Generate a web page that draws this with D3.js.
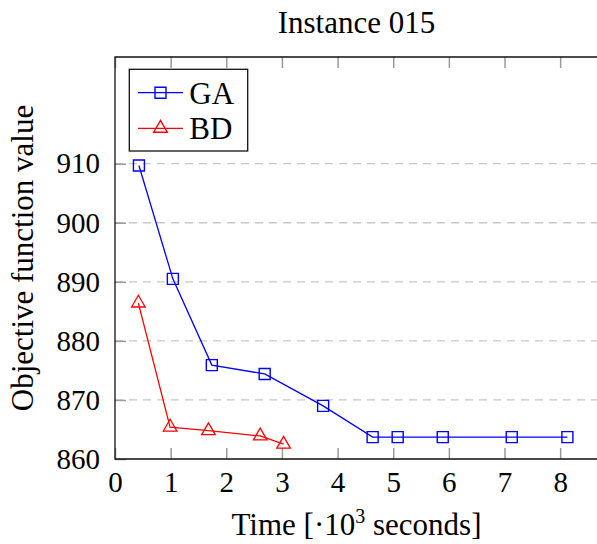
<!DOCTYPE html>
<html>
<head>
<meta charset="utf-8">
<script src="https://cdn.jsdelivr.net/npm/d3@7"></script>
<style>
    body {margin: 0; background: #fff;}
    svg {display: block;}
    text {font-family: "Liberation Serif", serif; fill: #000;}
</style>
</head>
<body>
<div id="chart"></div>
<script>
// values
const gaTime = [0.43, 1.04, 1.74, 2.69, 3.74, 4.63, 5.08, 5.89, 7.13, 8.13];
const gaValue = [909.7, 890.5, 875.9, 874.4, 869.0, 863.7, 863.7, 863.7, 863.7, 863.7];
const bdTime = [0.42, 0.99, 1.68, 2.61, 3.03];
const bdValue = [886.4, 865.4, 864.8, 863.9, 862.5];
const xTicks = [0, 1, 2, 3, 4, 5, 6, 7, 8];
const yTicks = [860, 870, 880, 890, 900, 910];
const seriesNames = ['GA', 'BD'];
const seriesColors = ['#0000ff', '#ff0000'];

const svgWidth = 597;
const svgHeight = 544;
const margins = {t: 57, r: -1, b: 85, l: 115};
const graphWidth = svgWidth - margins.l - margins.r;
const graphHeight = svgHeight - margins.t - margins.b;

const svg = d3.select('#chart')
    .append('svg')
    .attr('width', svgWidth)
    .attr('height', svgHeight);

const g = svg.append('g').attr('transform', `translate(${margins.l},${margins.t})`);

const x = d3.scaleLinear().domain([0, 8.68]).range([0, graphWidth]);
const y = d3.scaleLinear().domain([860, 928.07]).range([graphHeight, 0]);

// dashed grid
g.selectAll('line.grid')
    .data(yTicks.filter(d => d > 860))
    .join('line')
    .attr('class', 'grid')
    .attr('x1', 0).attr('x2', graphWidth)
    .attr('y1', d => y(d)).attr('y2', d => y(d))
    .attr('stroke', '#c8c8c8')
    .attr('stroke-width', 1.3)
    .attr('stroke-dasharray', '8,6');

// axes (ticks point inside)
const xAxis = g.append('g')
    .attr('transform', `translate(0,${graphHeight})`)
    .call(d3.axisBottom(x).tickValues(xTicks).tickSize(-11).tickPadding(12).tickFormat(d3.format('d')));

const xTop = g.append('g')
    .call(d3.axisTop(x).tickValues(xTicks).tickSize(-11).tickFormat(''));

const yAxis = g.append('g')
    .call(d3.axisLeft(y).tickValues(yTicks).tickSize(-11).tickPadding(15).tickFormat(d3.format('d')));

[xAxis, xTop, yAxis].forEach(a => {
    a.select('.domain').remove();
    a.selectAll('.tick line').attr('stroke', '#9a9a9a').attr('stroke-width', 1.5);
    a.selectAll('.tick text').style('font-size', '29px').style('font-family', '"Liberation Serif", serif');
});

// frame
g.append('path')
    .attr('d', `M${graphWidth},0H0V${graphHeight}H${graphWidth}`)
    .attr('fill', 'none')
    .attr('stroke', '#111')
    .attr('stroke-width', 1.3);

// series
const gaData = gaTime.map((t, i) => ({t: t, v: gaValue[i]}));
const bdData = bdTime.map((t, i) => ({t: t, v: bdValue[i]}));

const line = d3.line().x(d => x(d.t)).y(d => y(d.v));

const square = d3.symbol().type(d3.symbolSquare).size(121);
const triangle = d3.symbol().type(d3.symbolTriangle).size(80);

g.append('path')
    .datum(gaData)
    .attr('d', line)
    .attr('fill', 'none')
    .attr('stroke', seriesColors[0])
    .attr('stroke-width', 1.3);

g.selectAll('path.ga')
    .data(gaData)
    .join('path')
    .attr('class', 'ga')
    .attr('d', square)
    .attr('transform', d => `translate(${x(d.t)},${y(d.v)})`)
    .attr('fill', 'none')
    .attr('stroke', seriesColors[0])
    .attr('stroke-width', 1.4);

g.append('path')
    .datum(bdData)
    .attr('d', line)
    .attr('fill', 'none')
    .attr('stroke', seriesColors[1])
    .attr('stroke-width', 1.3);

g.selectAll('path.bd')
    .data(bdData)
    .join('path')
    .attr('class', 'bd')
    .attr('d', triangle)
    .attr('transform', d => `translate(${x(d.t)},${y(d.v)})`)
    .attr('fill', 'none')
    .attr('stroke', seriesColors[1])
    .attr('stroke-width', 1.3);

// legend
const legend = g.append('g').attr('transform', 'translate(14.3,12.3)');
legend.append('rect')
    .attr('width', 118.4)
    .attr('height', 81.7)
    .attr('fill', '#fff')
    .attr('stroke', '#111')
    .attr('stroke-width', 1.3);

seriesNames.forEach((name, i) => {
    const row = legend.append('g').attr('transform', `translate(0,${23.4 + i * 35.6})`);
    row.append('line')
        .attr('x1', 8.7).attr('x2', 53.7)
        .attr('stroke', seriesColors[i])
        .attr('stroke-width', 1.3);
    row.append('path')
        .attr('d', i === 0 ? square : triangle)
        .attr('transform', 'translate(31.2,0)')
        .attr('fill', 'none')
        .attr('stroke', seriesColors[i])
        .attr('stroke-width', 1.4);
    row.append('text')
        .attr('x', 60)
        .attr('dy', '0.35em')
        .style('font-size', '31px')
        .text(name);
});

// titles
svg.append('text')
    .attr('x', margins.l + graphWidth / 2)
    .attr('y', 33)
    .attr('text-anchor', 'middle')
    .style('font-size', '31px')
    .text('Instance 015');

svg.append('text')
    .attr('transform', `translate(33,${margins.t + graphHeight / 2}) rotate(-90)`)
    .attr('text-anchor', 'middle')
    .style('font-size', '31px')
    .text('Objective function value');

const xLabel = svg.append('text')
    .attr('x', margins.l + graphWidth / 2)
    .attr('y', 535)
    .attr('text-anchor', 'middle')
    .style('font-size', '31px');
xLabel.append('tspan').text('Time [·10');
xLabel.append('tspan').attr('dy', -12).style('font-size', '20px').text('3');
xLabel.append('tspan').attr('dy', 12).text(' seconds]');
</script>
</body>
</html>
